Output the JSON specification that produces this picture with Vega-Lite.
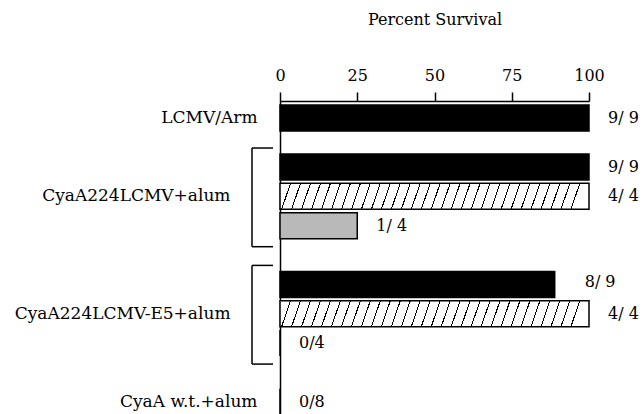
{
  "$schema": "https://vega.github.io/schema/vega-lite/v6.json",
  "width": 309,
  "height": 313,
  "autosize": {"type": "none"},
  "padding": {"left": 280, "top": 101, "right": 54, "bottom": 0},
  "config": {
    "font": "DejaVu Serif",
    "view": {"stroke": null},
    "axis": {"grid": false, "labelFont": "DejaVu Serif", "titleFont": "DejaVu Serif"},
    "text": {"font": "DejaVu Serif"}
  },
  "datasets": {
    "bars": [
      {"row": "LCMV/Arm", "group": "LCMV/Arm", "pattern": "solid", "survival": 100, "label": "9/ 9"},
      {"row": "CyaA224LCMV+alum#1", "group": "CyaA224LCMV+alum", "pattern": "solid", "survival": 100, "label": "9/ 9"},
      {"row": "CyaA224LCMV+alum", "group": "CyaA224LCMV+alum", "pattern": "hatched", "survival": 100, "label": "4/ 4"},
      {"row": "CyaA224LCMV+alum#3", "group": "CyaA224LCMV+alum", "pattern": "stippled", "survival": 25, "label": "1/ 4"},
      {"row": "CyaA224LCMV-E5+alum#1", "group": "CyaA224LCMV-E5+alum", "pattern": "solid", "survival": 88.9, "label": "8/ 9"},
      {"row": "CyaA224LCMV-E5+alum", "group": "CyaA224LCMV-E5+alum", "pattern": "hatched", "survival": 100, "label": "4/ 4"},
      {"row": "CyaA224LCMV-E5+alum#3", "group": "CyaA224LCMV-E5+alum", "pattern": "stippled", "survival": 0, "label": "0/4"},
      {"row": "CyaA w.t.+alum", "group": "CyaA w.t.+alum", "pattern": "solid", "survival": 0, "label": "0/8"}
    ],
    "brackets": [
      {"first": "CyaA224LCMV+alum#1", "last": "CyaA224LCMV+alum#3"},
      {"first": "CyaA224LCMV-E5+alum#1", "last": "CyaA224LCMV-E5+alum#3"}
    ]
  },
  "layer": [
    {
      "data": {"name": "bars"},
      "mark": {"type": "bar", "height": 26, "stroke": "black", "strokeWidth": 1.5},
      "encoding": {
        "y": {
          "field": "row", "type": "nominal", "title": null,
          "scale": {
            "domain": ["LCMV/Arm", "_1", "_2", "_3", "_4", "CyaA224LCMV+alum#1", "_5", "_6", "CyaA224LCMV+alum", "_7", "_8", "CyaA224LCMV+alum#3", "_9", "_10", "_11", "_12", "_13", "CyaA224LCMV-E5+alum#1", "_14", "_15", "CyaA224LCMV-E5+alum", "_16", "_17", "CyaA224LCMV-E5+alum#3", "_18", "_19", "_20", "_21", "_22", "CyaA w.t.+alum"],
            "paddingInner": 0, "paddingOuter": 1.2, "align": 0.625
          },
          "axis": {
            "orient": "left", "ticks": false, "domainColor": "black", "domainWidth": 1.5,
            "labelExpr": "indexof(datum.value, '#') >= 0 || indexof(datum.value, '_') == 0 ? '' : datum.value",
            "labelPadding": {"condition": {"test": "datum.value == 'LCMV/Arm' || datum.value == 'CyaA w.t.+alum'", "value": 23}, "value": 50},
            "labelFontSize": 17, "labelColor": "black", "labelLimit": 400, "labelFont": "DejaVu Serif"
          }
        },
        "x": {
          "field": "survival", "type": "quantitative",
          "scale": {"domain": [0, 100], "nice": false},
          "axis": {
            "orient": "top", "values": [0, 25, 50, 75, 100], "tickSize": 9, "tickWidth": 1.5, "tickColor": "black",
            "domainColor": "black", "domainWidth": 1.5, "labelFontSize": 16, "labelColor": "black", "labelPadding": 9,
            "labelFlush": false, "labelFont": "DejaVu Serif",
            "title": "Percent Survival", "titleFont": "DejaVu Serif", "titleFontSize": 16, "titleFontWeight": "normal", "titleColor": "black", "titlePadding": 40
          }
        },
        "fill": {
          "condition": [
            {"test": "datum.pattern == 'hatched'", "value": {
              "gradient": "linear", "x1": 0, "y1": 0, "x2": 1, "y2": 0.029,
              "stops": [
                {"offset": 0, "color": "white"},
                {"offset": 0.0323, "color": "white"}, {"offset": 0.0323, "color": "black"}, {"offset": 0.0358, "color": "black"}, {"offset": 0.0358, "color": "white"},
                {"offset": 0.0645, "color": "white"}, {"offset": 0.0645, "color": "black"}, {"offset": 0.0680, "color": "black"}, {"offset": 0.0680, "color": "white"},
                {"offset": 0.0968, "color": "white"}, {"offset": 0.0968, "color": "black"}, {"offset": 0.1003, "color": "black"}, {"offset": 0.1003, "color": "white"},
                {"offset": 0.1290, "color": "white"}, {"offset": 0.1290, "color": "black"}, {"offset": 0.1325, "color": "black"}, {"offset": 0.1325, "color": "white"},
                {"offset": 0.1613, "color": "white"}, {"offset": 0.1613, "color": "black"}, {"offset": 0.1648, "color": "black"}, {"offset": 0.1648, "color": "white"},
                {"offset": 0.1935, "color": "white"}, {"offset": 0.1935, "color": "black"}, {"offset": 0.1970, "color": "black"}, {"offset": 0.1970, "color": "white"},
                {"offset": 0.2258, "color": "white"}, {"offset": 0.2258, "color": "black"}, {"offset": 0.2293, "color": "black"}, {"offset": 0.2293, "color": "white"},
                {"offset": 0.2581, "color": "white"}, {"offset": 0.2581, "color": "black"}, {"offset": 0.2616, "color": "black"}, {"offset": 0.2616, "color": "white"},
                {"offset": 0.2903, "color": "white"}, {"offset": 0.2903, "color": "black"}, {"offset": 0.2938, "color": "black"}, {"offset": 0.2938, "color": "white"},
                {"offset": 0.3226, "color": "white"}, {"offset": 0.3226, "color": "black"}, {"offset": 0.3261, "color": "black"}, {"offset": 0.3261, "color": "white"},
                {"offset": 0.3548, "color": "white"}, {"offset": 0.3548, "color": "black"}, {"offset": 0.3583, "color": "black"}, {"offset": 0.3583, "color": "white"},
                {"offset": 0.3871, "color": "white"}, {"offset": 0.3871, "color": "black"}, {"offset": 0.3906, "color": "black"}, {"offset": 0.3906, "color": "white"},
                {"offset": 0.4194, "color": "white"}, {"offset": 0.4194, "color": "black"}, {"offset": 0.4229, "color": "black"}, {"offset": 0.4229, "color": "white"},
                {"offset": 0.4516, "color": "white"}, {"offset": 0.4516, "color": "black"}, {"offset": 0.4551, "color": "black"}, {"offset": 0.4551, "color": "white"},
                {"offset": 0.4839, "color": "white"}, {"offset": 0.4839, "color": "black"}, {"offset": 0.4874, "color": "black"}, {"offset": 0.4874, "color": "white"},
                {"offset": 0.5161, "color": "white"}, {"offset": 0.5161, "color": "black"}, {"offset": 0.5196, "color": "black"}, {"offset": 0.5196, "color": "white"},
                {"offset": 0.5484, "color": "white"}, {"offset": 0.5484, "color": "black"}, {"offset": 0.5519, "color": "black"}, {"offset": 0.5519, "color": "white"},
                {"offset": 0.5806, "color": "white"}, {"offset": 0.5806, "color": "black"}, {"offset": 0.5841, "color": "black"}, {"offset": 0.5841, "color": "white"},
                {"offset": 0.6129, "color": "white"}, {"offset": 0.6129, "color": "black"}, {"offset": 0.6164, "color": "black"}, {"offset": 0.6164, "color": "white"},
                {"offset": 0.6452, "color": "white"}, {"offset": 0.6452, "color": "black"}, {"offset": 0.6487, "color": "black"}, {"offset": 0.6487, "color": "white"},
                {"offset": 0.6774, "color": "white"}, {"offset": 0.6774, "color": "black"}, {"offset": 0.6809, "color": "black"}, {"offset": 0.6809, "color": "white"},
                {"offset": 0.7097, "color": "white"}, {"offset": 0.7097, "color": "black"}, {"offset": 0.7132, "color": "black"}, {"offset": 0.7132, "color": "white"},
                {"offset": 0.7419, "color": "white"}, {"offset": 0.7419, "color": "black"}, {"offset": 0.7454, "color": "black"}, {"offset": 0.7454, "color": "white"},
                {"offset": 0.7742, "color": "white"}, {"offset": 0.7742, "color": "black"}, {"offset": 0.7777, "color": "black"}, {"offset": 0.7777, "color": "white"},
                {"offset": 0.8065, "color": "white"}, {"offset": 0.8065, "color": "black"}, {"offset": 0.8100, "color": "black"}, {"offset": 0.8100, "color": "white"},
                {"offset": 0.8387, "color": "white"}, {"offset": 0.8387, "color": "black"}, {"offset": 0.8422, "color": "black"}, {"offset": 0.8422, "color": "white"},
                {"offset": 0.8710, "color": "white"}, {"offset": 0.8710, "color": "black"}, {"offset": 0.8745, "color": "black"}, {"offset": 0.8745, "color": "white"},
                {"offset": 0.9032, "color": "white"}, {"offset": 0.9032, "color": "black"}, {"offset": 0.9067, "color": "black"}, {"offset": 0.9067, "color": "white"},
                {"offset": 0.9355, "color": "white"}, {"offset": 0.9355, "color": "black"}, {"offset": 0.9390, "color": "black"}, {"offset": 0.9390, "color": "white"},
                {"offset": 0.9677, "color": "white"}, {"offset": 0.9677, "color": "black"}, {"offset": 0.9712, "color": "black"}, {"offset": 0.9712, "color": "white"},
                {"offset": 1, "color": "white"}
              ]
            }},
            {"test": "datum.pattern == 'stippled'", "value": "#b9b9b9"}
          ],
          "value": "black"
        }
      }
    },
    {
      "data": {"name": "bars"},
      "transform": [{"filter": "datum.label != '8/ 9'"}],
      "mark": {"type": "text", "align": "left", "baseline": "middle", "dx": 19, "fontSize": 16, "color": "black", "font": "DejaVu Serif"},
      "encoding": {
        "y": {"field": "row", "type": "nominal", "title": null},
        "x": {"field": "survival", "type": "quantitative"},
        "text": {"field": "label"}
      }
    },
    {
      "data": {"name": "bars"},
      "transform": [{"filter": "datum.label == '8/ 9'"}],
      "mark": {"type": "text", "align": "left", "baseline": "middle", "dx": 30, "dy": -2, "fontSize": 16, "color": "black", "font": "DejaVu Serif"},
      "encoding": {
        "y": {"field": "row", "type": "nominal", "title": null},
        "x": {"field": "survival", "type": "quantitative"},
        "text": {"field": "label"}
      }
    },
    {
      "data": {"name": "brackets"},
      "mark": {"type": "rule", "color": "black", "strokeWidth": 1.5, "xOffset": -28, "yOffset": -19, "y2Offset": 21},
      "encoding": {
        "x": {"datum": 0},
        "y": {"field": "first", "type": "nominal", "title": null},
        "y2": {"field": "last"}
      }
    },
    {
      "data": {"name": "brackets"},
      "mark": {"type": "rule", "color": "black", "strokeWidth": 1.5, "xOffset": -28, "x2Offset": -7, "yOffset": -19},
      "encoding": {
        "x": {"datum": 0},
        "x2": {"datum": 0},
        "y": {"field": "first", "type": "nominal", "title": null}
      }
    },
    {
      "data": {"name": "brackets"},
      "mark": {"type": "rule", "color": "black", "strokeWidth": 1.5, "xOffset": -28, "x2Offset": -7, "yOffset": 21},
      "encoding": {
        "x": {"datum": 0},
        "x2": {"datum": 0},
        "y": {"field": "last", "type": "nominal", "title": null}
      }
    }
  ]
}
